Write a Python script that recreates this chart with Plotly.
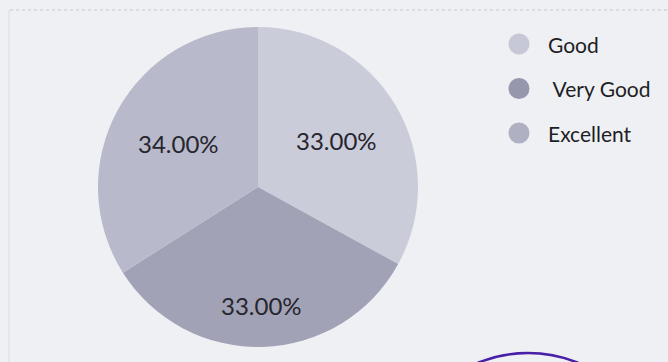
import math
import plotly.graph_objects as go

# Survey rating shares (percent)
categories = ["Good", " Very Good", "Excellent"]
shares = [33.0, 33.0, 34.0]
slice_colors = ["#cbccda", "#a2a2b6", "#b8b9ca"]
legend_colors = ["#c6c7d7", "#9696ac", "#b0b0c3"]
# how far out (fraction of radius) each percentage label sits
label_radius = [0.57, 0.74, 0.57]

W, H = 668, 362
BG = "#eef0f4"

# pie placement in pixels
PCX, PCY, PR = 258, 187, 160

fig = go.Figure()

fig.add_trace(go.Pie(
    labels=categories,
    values=shares,
    sort=False,
    direction="clockwise",
    rotation=0,
    marker=dict(colors=slice_colors, line=dict(width=0)),
    textinfo="none",
    domain=dict(x=[(PCX - PR) / W, (PCX + PR) / W],
                y=[(H - PCY - PR) / H, (H - PCY + PR) / H]),
    showlegend=False,
    hoverinfo="label+percent",
))

shapes = []
annotations = []

# Percentage labels at each slice's mid-angle (clockwise from 12 o'clock)
total = sum(shares)
start = 0.0
for v, rf in zip(shares, label_radius):
    mid = (start + v / 2) / total * 2 * math.pi
    start += v
    lx = PCX + rf * PR * math.sin(mid)
    ly = PCY - rf * PR * math.cos(mid)
    annotations.append(dict(x=lx / W, y=1 - ly / H, xref="paper", yref="paper",
                            text=f"{v / total * 100:.2f}%", showarrow=False,
                            xanchor="center", yanchor="middle",
                            font=dict(family="Lato", size=24, color="#26262e")))

# Legend: round swatches with labels on the right
for i, (name, col) in enumerate(zip(categories, legend_colors)):
    cy = 44 + i * 44.5
    cx = 519
    r = 10.5
    shapes.append(dict(type="circle", xref="paper", yref="paper",
                       x0=(cx - r) / W, x1=(cx + r) / W,
                       y0=1 - (cy + r) / H, y1=1 - (cy - r) / H,
                       fillcolor=col, line=dict(width=0), layer="above"))
    annotations.append(dict(x=546 / W, y=1 - cy / H, xref="paper", yref="paper",
                            text=name.replace(" ", "&nbsp;"), showarrow=False,
                            xanchor="left", yanchor="middle",
                            font=dict(family="Lato", size=21, color="#1e1e24")))

# Frame rules of the chart area
shapes.append(dict(type="line", xref="paper", yref="paper",
                   x0=10 / W, x1=1, y0=1 - 10 / H, y1=1 - 10 / H,
                   line=dict(color="#c3c7cf", width=1, dash="dot")))
shapes.append(dict(type="line", xref="paper", yref="paper",
                   x0=9 / W, x1=9 / W, y0=0, y1=1 - 10 / H,
                   line=dict(color="#dadde3", width=1)))

# Ink stamp edge in the lower right
scx, scy, sr = 528, 485, 132
shapes.append(dict(type="circle", xref="paper", yref="paper",
                   x0=(scx - sr) / W, x1=(scx + sr) / W,
                   y0=1 - (scy + sr) / H, y1=1 - (scy - sr) / H,
                   line=dict(color="#4a1fa8", width=2.5), fillcolor="rgba(0,0,0,0)"))

fig.update_layout(
    width=W, height=H,
    margin=dict(l=0, r=0, t=0, b=0),
    paper_bgcolor=BG,
    plot_bgcolor=BG,
    shapes=shapes,
    annotations=annotations,
)

fig.write_html("out.html")
